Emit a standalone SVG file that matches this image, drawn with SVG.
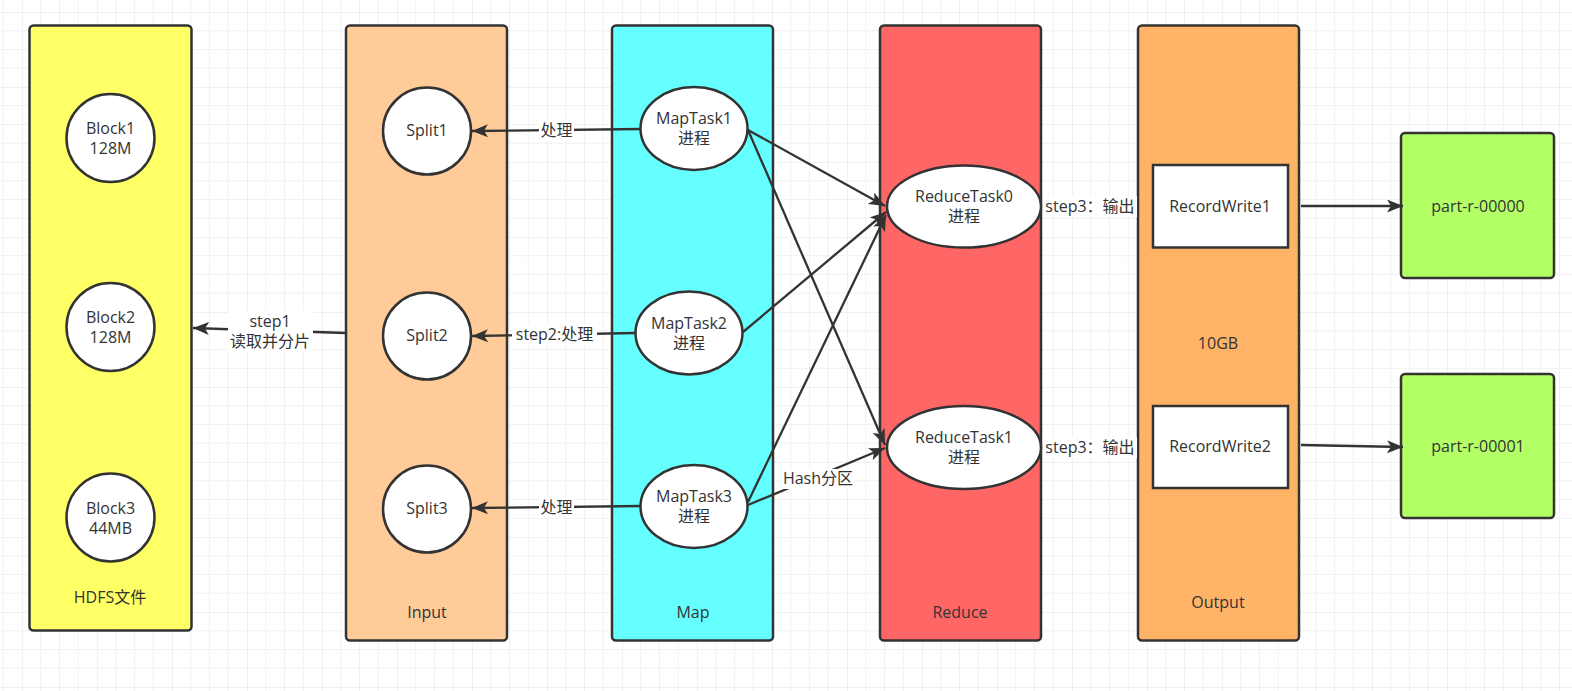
<svg xmlns="http://www.w3.org/2000/svg" width="1572" height="691" viewBox="0 0 1572 691">
<style>
text{font-family:"Open Sans","Noto Sans CJK SC",sans-serif;font-size:16px;fill:#333;text-anchor:middle}
.el{font-size:16px}
.box{stroke:#333;stroke-width:2.5}
.node{fill:#fff;stroke:#333;stroke-width:2.5}
.edge{fill:none;stroke:#333;stroke-width:2.3}
.lbl{fill:#fff}
</style>
<defs>
<pattern id="grid" patternUnits="userSpaceOnUse" x="22" y="12" width="75" height="75">
<path d="M18.75 0V75M37.5 0V75M56.25 0V75M0 18.75H75M0 37.5H75M0 56.25H75" stroke="#f1f1f1" stroke-width="1" fill="none"/>
<path d="M0 0V75M0 0H75" stroke="#e4e4e4" stroke-width="1" fill="none"/>
</pattern>
<marker id="arr" markerUnits="userSpaceOnUse" markerWidth="18" markerHeight="14" refX="16" refY="6.5" orient="auto">
<path d="M0 0L16 6.5L0 13L4 6.5Z" fill="#333"/>
</marker>
</defs>
<rect width="1572" height="691" fill="#fff"/>
<rect width="1572" height="691" fill="url(#grid)"/>

<g id="hdfs">
<rect class="box" x="29.5" y="25.5" width="162" height="605" rx="4" fill="#ffff66"/>
<text x="110" y="603">HDFS文件</text>
</g>
<g id="input">
<rect class="box" x="346" y="25.5" width="161" height="615" rx="4" fill="#ffcc99"/>
<text x="427" y="618">Input</text>
</g>
<g id="map">
<rect class="box" x="612" y="25.5" width="161" height="615" rx="4" fill="#66ffff"/>
<text x="693" y="618">Map</text>
</g>
<g id="reduce">
<rect class="box" x="880" y="25.5" width="161" height="615" rx="4" fill="#ff6666"/>
<text x="960" y="618">Reduce</text>
</g>
<g id="output">
<rect class="box" x="1138" y="25.5" width="161" height="615" rx="4" fill="#ffb366"/>
<text x="1218" y="608">Output</text>
<text x="1218" y="349">10GB</text>
</g>

<g id="block1"><circle class="node" cx="110.5" cy="138" r="44"/><text x="110.5" y="134">Block1</text><text x="110.5" y="154">128M</text></g>
<g id="block2"><circle class="node" cx="110.5" cy="327" r="44"/><text x="110.5" y="323">Block2</text><text x="110.5" y="343">128M</text></g>
<g id="block3"><circle class="node" cx="110.5" cy="517.5" r="44"/><text x="110.5" y="514">Block3</text><text x="110.5" y="534">44MB</text></g>

<g id="split1"><ellipse class="node" cx="427" cy="131" rx="44" ry="43.5"/><text x="427" y="136">Split1</text></g>
<g id="split2"><ellipse class="node" cx="427" cy="336" rx="44" ry="43.5"/><text x="427" y="341">Split2</text></g>
<g id="split3"><ellipse class="node" cx="427" cy="509" rx="44" ry="43.5"/><text x="427" y="514">Split3</text></g>

<g id="maptask1"><ellipse class="node" cx="694" cy="128.5" rx="53.5" ry="41.5"/><text x="694" y="124">MapTask1</text><text x="694" y="144">进程</text></g>
<g id="maptask2"><ellipse class="node" cx="689" cy="333" rx="53.5" ry="41.5"/><text x="689" y="329">MapTask2</text><text x="689" y="349">进程</text></g>
<g id="maptask3"><ellipse class="node" cx="694" cy="506.5" rx="53.5" ry="41.5"/><text x="694" y="502">MapTask3</text><text x="694" y="522">进程</text></g>

<g id="reducetask0"><ellipse class="node" cx="964" cy="206.5" rx="77" ry="41"/><text x="964" y="202">ReduceTask0</text><text x="964" y="222">进程</text></g>
<g id="reducetask1"><ellipse class="node" cx="964" cy="447.5" rx="77" ry="41.5"/><text x="964" y="443">ReduceTask1</text><text x="964" y="463">进程</text></g>

<g id="recordwrite1"><rect class="node" x="1153" y="165" width="135" height="82.5"/><text x="1220" y="212">RecordWrite1</text></g>
<g id="recordwrite2"><rect class="node" x="1153" y="406" width="135" height="82"/><text x="1220" y="452">RecordWrite2</text></g>

<g id="part0"><rect class="box" x="1401" y="133" width="153" height="145" rx="4" fill="#b3ff66"/><text x="1478" y="212">part-r-00000</text></g>
<g id="part1"><rect class="box" x="1401" y="374" width="153" height="144" rx="4" fill="#b3ff66"/><text x="1478" y="452">part-r-00001</text></g>

<g id="connectors">
<path class="edge" d="M641 129L472 131" marker-end="url(#arr)"/>
<path class="edge" d="M636 333L472 336" marker-end="url(#arr)"/>
<path class="edge" d="M641 506L472 508" marker-end="url(#arr)"/>
<path class="edge" d="M346 333L193 328" marker-end="url(#arr)"/>
<path class="edge" d="M748 130L885 206" marker-end="url(#arr)"/>
<path class="edge" d="M748 130L885 445" marker-end="url(#arr)"/>
<path class="edge" d="M743 332L886 212" marker-end="url(#arr)"/>
<path class="edge" d="M748 502L886 215" marker-end="url(#arr)"/>
<path class="edge" d="M748 505L885 448" marker-end="url(#arr)"/>
<path class="edge" d="M1301 206L1403 206" marker-end="url(#arr)"/>
<path class="edge" d="M1301 445L1403 447" marker-end="url(#arr)"/>

<rect class="lbl" x="539" y="121" width="35" height="20"/><text class="el" x="556.5" y="136">处理</text>
<rect class="lbl" x="512" y="325" width="85" height="20"/><text class="el" x="554.5" y="340">step2:处理</text>
<rect class="lbl" x="539" y="498" width="35" height="20"/><text class="el" x="556.5" y="513">处理</text>
<rect class="lbl" x="228" y="311" width="85" height="41"/><text class="el" x="270" y="327">step1</text><text class="el" x="270" y="347">读取并分片</text>
<rect class="lbl" x="781" y="469" width="74" height="20"/><text class="el" x="818" y="484">Hash分区</text>
<rect class="lbl" x="1043" y="196" width="94" height="21"/><text class="el" x="1090" y="212">step3：输出</text>
<rect class="lbl" x="1043" y="437" width="94" height="21"/><text class="el" x="1090" y="453">step3：输出</text>
</g>
</svg>
